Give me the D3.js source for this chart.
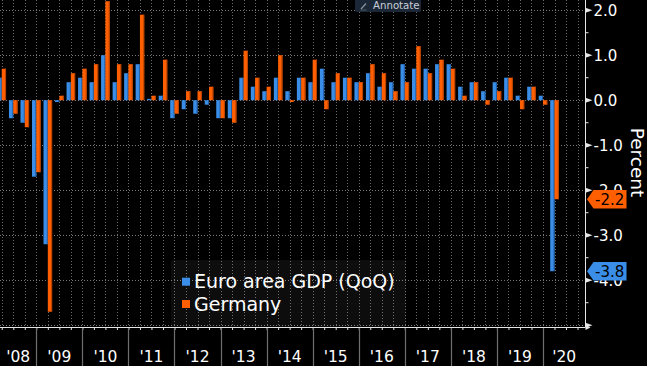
<!DOCTYPE html>
<html><head><meta charset="utf-8">
<script src="https://cdn.jsdelivr.net/npm/d3@7"></script>
<style>html,body{margin:0;padding:0;background:#000;overflow:hidden}</style>
</head><body>
<svg id="c" width="647" height="366"></svg>
<script>
const quarters = ["2008Q1","2008Q2","2008Q3","2008Q4","2009Q1","2009Q2","2009Q3","2009Q4",
  "2010Q1","2010Q2","2010Q3","2010Q4","2011Q1","2011Q2","2011Q3","2011Q4",
  "2012Q1","2012Q2","2012Q3","2012Q4","2013Q1","2013Q2","2013Q3","2013Q4",
  "2014Q1","2014Q2","2014Q3","2014Q4","2015Q1","2015Q2","2015Q3","2015Q4",
  "2016Q1","2016Q2","2016Q3","2016Q4","2017Q1","2017Q2","2017Q3","2017Q4",
  "2018Q1","2018Q2","2018Q3","2018Q4","2019Q1","2019Q2","2019Q3","2019Q4","2020Q1"];
const euroArea = [0.5,-0.4,-0.5,-1.7,-3.2,-0.04,0.4,0.5,
  0.4,1.0,0.4,0.6,0.8,0.03,0.1,-0.4,
  -0.2,-0.3,-0.1,-0.4,-0.4,0.5,0.3,0.2,
  0.5,0.2,0.5,0.4,0.7,0.4,0.5,0.4,
  0.6,0.3,0.4,0.8,0.7,0.7,0.8,0.8,
  0.3,0.4,0.2,0.4,0.5,0.1,0.3,0.1,-3.8];
const germany = [0.7,-0.3,-0.6,-1.6,-4.7,0.1,0.6,0.7,
  0.8,2.2,0.8,0.8,1.9,0.1,0.9,-0.3,
  0.2,0.2,0.3,-0.4,-0.5,1.1,0.5,0.3,
  1.0,-0.04,0.5,0.9,-0.2,0.6,0.5,0.4,
  0.8,0.6,0.2,0.4,1.2,0.6,0.9,0.7,
  0.1,0.4,-0.1,0.2,0.5,-0.2,0.3,-0.1,-2.2];
const yearStarts = [2008,2009,2010,2011,2012,2013,2014,2015,2016,2017,2018,2019,2020];
const yearLabels = ["'08","'09","'10","'11","'12","'13","'14","'15","'16","'17","'18","'19","'20"];
const yTicks = [2,1,0,-1,-2,-3,-4];
const gridValues = [2,1,0,-1,-2,-3,-4,-5];
const seriesNames = ["Euro area GDP (QoQ)","Germany"];

const BLUE = "#3a8ee8", ORANGE = "#ff5f00";
const BLUE_D = "#1f5da6", ORANGE_D = "#b54300";
const FONT = "DejaVu Sans, Verdana, sans-serif";

const W = 647, H = 366, plotR = 585.5, plotB = 327;
const svg = d3.select("#c");
svg.append("rect").attr("width", W).attr("height", H).attr("fill", "#000");

const x = d3.scaleLinear().domain([2008.212, 2020.912]).range([0, 585]);
const y = d3.scaleLinear().domain([-5.04, 2.227]).range([plotB, 0]);
const qEnd = q => +q.slice(0,4) + (+q.slice(5)) * 0.25;

const plot = svg.append("g");
plot.append("clipPath").attr("id","clip").append("rect").attr("x",0).attr("y",0).attr("width",plotR).attr("height",plotB);

// gridlines
const qStarts = d3.range(2008.25, 2020.9, 0.25);
plot.append("g").selectAll("line").data(qStarts).join("line")
  .attr("x1", d => Math.round(x(d)) + 0.5).attr("x2", d => Math.round(x(d)) + 0.5)
  .attr("y1", 0).attr("y2", plotB)
  .attr("stroke", "#6a6a6a").attr("stroke-width", 1).attr("stroke-dasharray", "1,2");
plot.append("g").selectAll("line").data(gridValues).join("line")
  .attr("x1", 0).attr("x2", plotR)
  .attr("y1", d => Math.round(y(d)) + 0.5).attr("y2", d => Math.round(y(d)) + 0.5)
  .attr("stroke", "#7a7a7a").attr("stroke-width", 1).attr("stroke-dasharray", "1,2");

// legend background
svg.append("rect").attr("x", 171).attr("y", 260).attr("width", 235).attr("height", plotB - 260)
  .attr("fill", "rgba(255,255,255,0.05)");

// bars
const bw = 4.3;
const bars = plot.append("g").attr("clip-path", "url(#clip)");
function drawSeries(vals, off, col, dark) {
  const g = bars.append("g");
  const data = quarters.map((q, i) => ({q, v: vals[i]}));
  g.selectAll("rect.b").data(data).join("rect").attr("class","b")
    .attr("x", d => x(qEnd(d.q)) + off).attr("width", bw)
    .attr("y", d => Math.min(y(d.v), y(0))).attr("height", d => Math.abs(y(d.v) - y(0)))
    .attr("fill", col);
  g.selectAll("rect.e").data(data).join("rect").attr("class","e")
    .attr("x", d => x(qEnd(d.q)) + off + bw - 1).attr("width", 1)
    .attr("y", d => Math.min(y(d.v), y(0))).attr("height", d => Math.abs(y(d.v) - y(0)))
    .attr("fill", dark);
}
drawSeries(euroArea, -bw, BLUE, BLUE_D);
drawSeries(germany, 0, ORANGE, ORANGE_D);

// right axis
const yAxis = d3.axisRight(y).tickValues(yTicks).tickSize(0).tickPadding(8)
  .tickFormat(d => d.toFixed(1));
const ya = svg.append("g").attr("transform", `translate(${plotR},0)`).call(yAxis);
ya.select(".domain").remove();
ya.selectAll("text").attr("fill", "#fff").attr("font-family", FONT).attr("font-size", 15).attr("dy", "0.34em");
svg.append("line").attr("x1", plotR).attr("x2", plotR).attr("y1", 0).attr("y2", plotB)
  .attr("stroke", "#e6e6e6").attr("stroke-width", 1);
svg.append("g").selectAll("path").data(gridValues).join("path")
  .attr("d", d => { const yy = y(d); return `M${plotR},${yy-2.5}L${plotR+7},${yy}L${plotR},${yy+2.5}Z`; })
  .attr("fill", "#e6e6e6");
svg.append("g").selectAll("line").data(d3.range(-4.5, 2.1, 1)).join("line")
  .attr("x1", plotR).attr("x2", plotR + 3).attr("y1", d => y(d)).attr("y2", d => y(d))
  .attr("stroke", "#e6e6e6");

// Percent title
svg.append("text").attr("transform", "translate(631,162.5) rotate(90)")
  .attr("text-anchor", "middle").attr("fill", "#fff").attr("font-family", FONT)
  .attr("font-size", 18.5).text("Percent");

// value tags
function tag(v, col) {
  const cy = y(v);
  svg.append("path").attr("d", `M${plotR+1.5},${cy}L${plotR+8},${cy-9.3}L${plotR+41},${cy-9.3}L${plotR+41},${cy+9.3}L${plotR+8},${cy+9.3}Z`)
    .attr("fill", col);
  svg.append("text").attr("x", plotR + 9.5).attr("y", cy).attr("dy", "0.36em")
    .attr("fill", "#000").attr("font-family", FONT).attr("font-size", 15).text(v.toFixed(1));
}
tag(germany[germany.length - 1], ORANGE);
tag(euroArea[euroArea.length - 1], BLUE);

// bottom axis
const xAxis = d3.axisBottom(x).tickValues(qStarts.filter(d => x(d) <= plotR)).tickSize(3).tickFormat("");
const xa = svg.append("g").attr("transform", `translate(0,${plotB})`).call(xAxis);
xa.select(".domain").remove();
xa.selectAll("line").attr("stroke", "#ddd");
svg.append("line").attr("x1", 0).attr("x2", plotR).attr("y1", plotB + 0.5).attr("y2", plotB + 0.5)
  .attr("stroke", "#e6e6e6");
svg.append("path").attr("d", `M${plotR},${plotB-2}L${plotR+5},${plotB+0.5}L${plotR},${plotB+3}Z`).attr("fill", "#e6e6e6");

svg.append("g").selectAll("line").data(yearStarts.slice(1)).join("line")
  .attr("x1", d => Math.round(x(d)) + 0.5).attr("x2", d => Math.round(x(d)) + 0.5)
  .attr("y1", plotB + 1).attr("y2", H).attr("stroke", "#6f6f6f").attr("stroke-width", 1.2);
svg.append("g").selectAll("text").data(yearStarts).join("text")
  .attr("x", (d, i) => (Math.max(0, x(d)) + Math.min(plotR, x(d + 1))) / 2)
  .attr("y", 361.5).attr("text-anchor", "middle")
  .attr("fill", "#fff").attr("font-family", FONT).attr("font-size", 15.5)
  .text((d, i) => yearLabels[i]);

// legend
const lg = svg.append("g");
[[seriesNames[0], BLUE, 281.7], [seriesNames[1], ORANGE, 304]].forEach(([name, col, cy]) => {
  lg.append("rect").attr("x", 182).attr("y", cy - 4).attr("width", 8).attr("height", 8).attr("fill", col);
  lg.append("text").attr("x", 194).attr("y", cy + 6.6).attr("fill", "#fff")
    .attr("font-family", FONT).attr("font-size", 19).text(name);
});

// Annotate button
const ab = svg.append("g");
ab.append("rect").attr("x", 355).attr("y", -3).attr("width", 66).attr("height", 15).attr("rx", 2).attr("fill", "#1b2736");
ab.append("path").attr("d", "M361,9L366,3.5").attr("stroke", "#8b949e").attr("stroke-width", 1.2);
ab.append("path").attr("d", "M360.5,10L366.5,10").attr("stroke", "#5b646e").attr("stroke-width", 0.8);
ab.append("text").attr("x", 373).attr("y", 9).attr("fill", "#c9ced6")
  .attr("font-family", FONT).attr("font-size", 10.2).text("Annotate");
</script>
</body></html>
